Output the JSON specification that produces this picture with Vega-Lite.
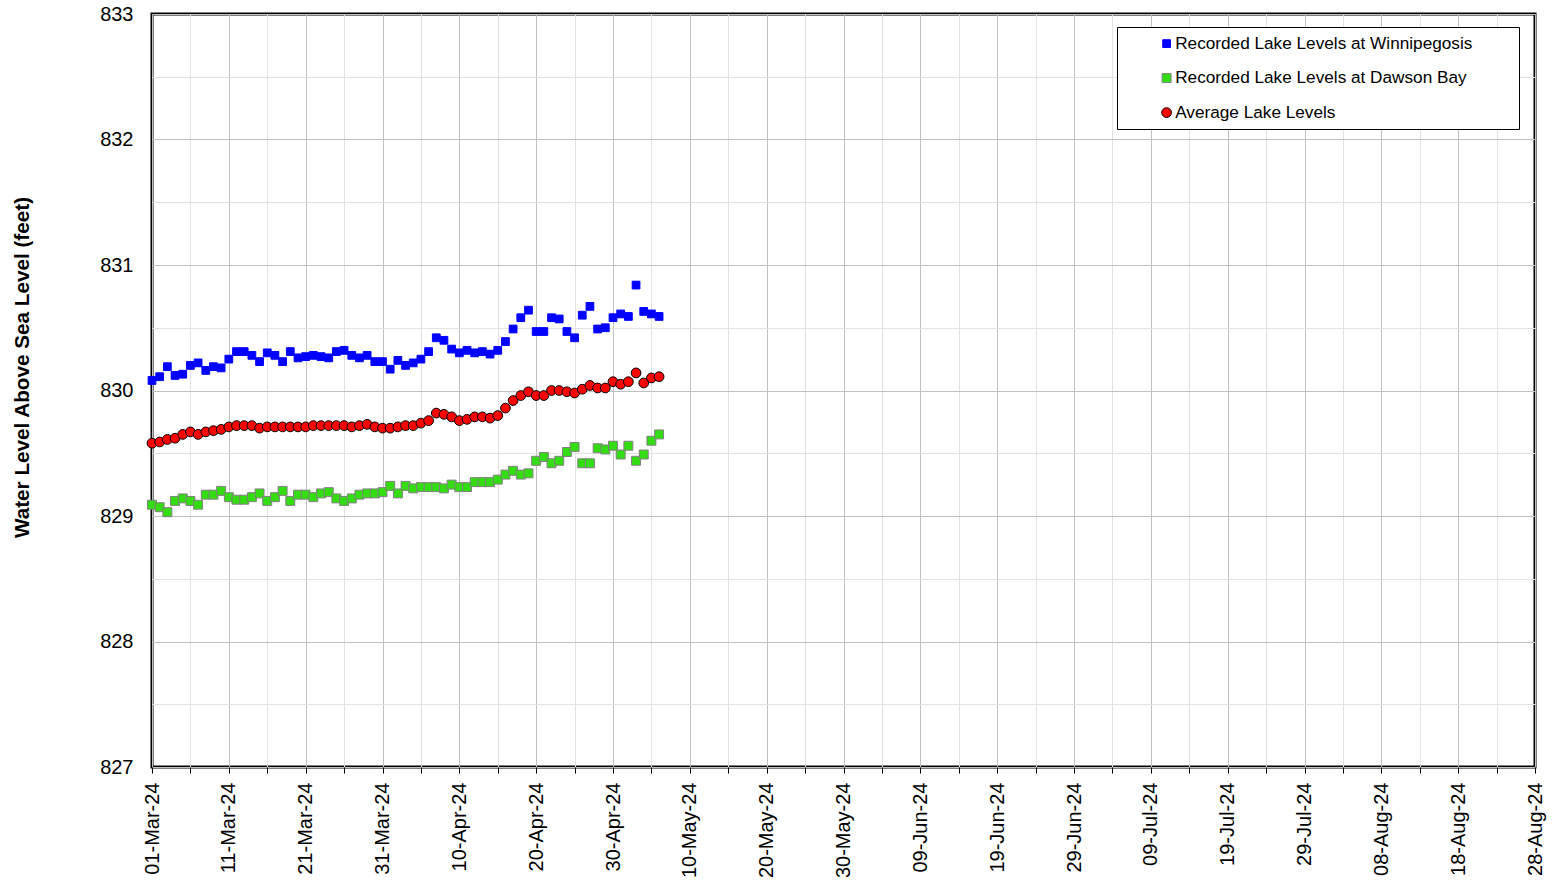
{
  "$schema": "https://vega.github.io/schema/vega-lite/v6.json",
  "width": 1383,
  "height": 753,
  "autosize": {"type": "none"},
  "padding": {"left": 152, "top": 14, "right": 18, "bottom": 117},
  "background": "white",
  "config": {"font": "Liberation Sans", "view": {"stroke": "black", "strokeWidth": 3}},
  "data": {"values": [
    {"date": "2024-03-01", "W": 830.08, "D": 829.09, "A": 829.58},
    {"date": "2024-03-02", "W": 830.11, "D": 829.07, "A": 829.59},
    {"date": "2024-03-03", "W": 830.19, "D": 829.03, "A": 829.61},
    {"date": "2024-03-04", "W": 830.12, "D": 829.12, "A": 829.62},
    {"date": "2024-03-05", "W": 830.13, "D": 829.14, "A": 829.65},
    {"date": "2024-03-06", "W": 830.20, "D": 829.12, "A": 829.67},
    {"date": "2024-03-07", "W": 830.22, "D": 829.09, "A": 829.65},
    {"date": "2024-03-08", "W": 830.16, "D": 829.17, "A": 829.67},
    {"date": "2024-03-09", "W": 830.19, "D": 829.17, "A": 829.68},
    {"date": "2024-03-10", "W": 830.18, "D": 829.20, "A": 829.69},
    {"date": "2024-03-11", "W": 830.25, "D": 829.15, "A": 829.71},
    {"date": "2024-03-12", "W": 830.31, "D": 829.13, "A": 829.72},
    {"date": "2024-03-13", "W": 830.31, "D": 829.13, "A": 829.72},
    {"date": "2024-03-14", "W": 830.28, "D": 829.15, "A": 829.72},
    {"date": "2024-03-15", "W": 830.23, "D": 829.18, "A": 829.70},
    {"date": "2024-03-16", "W": 830.30, "D": 829.12, "A": 829.71},
    {"date": "2024-03-17", "W": 830.28, "D": 829.15, "A": 829.71},
    {"date": "2024-03-18", "W": 830.23, "D": 829.20, "A": 829.71},
    {"date": "2024-03-19", "W": 830.31, "D": 829.12, "A": 829.71},
    {"date": "2024-03-20", "W": 830.26, "D": 829.17, "A": 829.71},
    {"date": "2024-03-21", "W": 830.27, "D": 829.17, "A": 829.71},
    {"date": "2024-03-22", "W": 830.28, "D": 829.15, "A": 829.72},
    {"date": "2024-03-23", "W": 830.27, "D": 829.18, "A": 829.72},
    {"date": "2024-03-24", "W": 830.26, "D": 829.19, "A": 829.72},
    {"date": "2024-03-25", "W": 830.31, "D": 829.14, "A": 829.72},
    {"date": "2024-03-26", "W": 830.32, "D": 829.12, "A": 829.72},
    {"date": "2024-03-27", "W": 830.28, "D": 829.14, "A": 829.71},
    {"date": "2024-03-28", "W": 830.26, "D": 829.17, "A": 829.72},
    {"date": "2024-03-29", "W": 830.28, "D": 829.18, "A": 829.73},
    {"date": "2024-03-30", "W": 830.23, "D": 829.18, "A": 829.71},
    {"date": "2024-03-31", "W": 830.23, "D": 829.19, "A": 829.70},
    {"date": "2024-04-01", "W": 830.17, "D": 829.24, "A": 829.70},
    {"date": "2024-04-02", "W": 830.24, "D": 829.18, "A": 829.71},
    {"date": "2024-04-03", "W": 830.20, "D": 829.24, "A": 829.72},
    {"date": "2024-04-04", "W": 830.22, "D": 829.22, "A": 829.72},
    {"date": "2024-04-05", "W": 830.25, "D": 829.23, "A": 829.74},
    {"date": "2024-04-06", "W": 830.31, "D": 829.23, "A": 829.76},
    {"date": "2024-04-07", "W": 830.42, "D": 829.23, "A": 829.82},
    {"date": "2024-04-08", "W": 830.40, "D": 829.22, "A": 829.81},
    {"date": "2024-04-09", "W": 830.33, "D": 829.25, "A": 829.79},
    {"date": "2024-04-10", "W": 830.30, "D": 829.23, "A": 829.76},
    {"date": "2024-04-11", "W": 830.32, "D": 829.23, "A": 829.77},
    {"date": "2024-04-12", "W": 830.30, "D": 829.27, "A": 829.79},
    {"date": "2024-04-13", "W": 830.31, "D": 829.27, "A": 829.79},
    {"date": "2024-04-14", "W": 830.29, "D": 829.27, "A": 829.78},
    {"date": "2024-04-15", "W": 830.32, "D": 829.29, "A": 829.80},
    {"date": "2024-04-16", "W": 830.39, "D": 829.33, "A": 829.86},
    {"date": "2024-04-17", "W": 830.49, "D": 829.36, "A": 829.92},
    {"date": "2024-04-18", "W": 830.58, "D": 829.33, "A": 829.96},
    {"date": "2024-04-19", "W": 830.64, "D": 829.34, "A": 829.99},
    {"date": "2024-04-20", "W": 830.47, "D": 829.44, "A": 829.96},
    {"date": "2024-04-21", "W": 830.47, "D": 829.47, "A": 829.96},
    {"date": "2024-04-22", "W": 830.58, "D": 829.42, "A": 830.00},
    {"date": "2024-04-23", "W": 830.57, "D": 829.44, "A": 830.00},
    {"date": "2024-04-24", "W": 830.47, "D": 829.51, "A": 829.99},
    {"date": "2024-04-25", "W": 830.42, "D": 829.55, "A": 829.98},
    {"date": "2024-04-26", "W": 830.60, "D": 829.42, "A": 830.01},
    {"date": "2024-04-27", "W": 830.67, "D": 829.42, "A": 830.04},
    {"date": "2024-04-28", "W": 830.49, "D": 829.54, "A": 830.02},
    {"date": "2024-04-29", "W": 830.50, "D": 829.53, "A": 830.02},
    {"date": "2024-04-30", "W": 830.58, "D": 829.56, "A": 830.07},
    {"date": "2024-05-01", "W": 830.61, "D": 829.49, "A": 830.05},
    {"date": "2024-05-02", "W": 830.59, "D": 829.56, "A": 830.07},
    {"date": "2024-05-03", "W": 830.84, "D": 829.44, "A": 830.14},
    {"date": "2024-05-04", "W": 830.63, "D": 829.49, "A": 830.06},
    {"date": "2024-05-05", "W": 830.61, "D": 829.60, "A": 830.10},
    {"date": "2024-05-06", "W": 830.59, "D": 829.65, "A": 830.11}
  ]},
  "transform": [{"fold": ["W", "D", "A"], "as": ["series", "level"]}],
  "mark": {"type": "point", "filled": true, "strokeWidth": 1, "opacity": 1},
  "encoding": {
    "x": {
      "field": "date", "type": "temporal",
      "scale": {"type": "utc", "domain": [1709251200000, 1724803200000]},
      "axis": {
        "values": [1709251200000, 1709683200000, 1710115200000, 1710547200000, 1710979200000, 1711411200000, 1711843200000, 1712275200000, 1712707200000, 1713139200000, 1713571200000, 1714003200000, 1714435200000, 1714867200000, 1715299200000, 1715731200000, 1716163200000, 1716595200000, 1717027200000, 1717459200000, 1717891200000, 1718323200000, 1718755200000, 1719187200000, 1719619200000, 1720051200000, 1720483200000, 1720915200000, 1721347200000, 1721779200000, 1722211200000, 1722643200000, 1723075200000, 1723507200000, 1723939200000, 1724371200000, 1724803200000],
        "labelExpr": "round((datum.value-1709251200000)/432000000)%2==0 ? utcFormat(datum.value,'%d-%b-%y') : ''",
        "labelAngle": 270,
        "labelAlign": "right",
        "labelBaseline": "middle",
        "labelFontSize": 20,
        "labelColor": "black",
        "labelPadding": 9,
        "labelOverlap": false,
        "labelFlush": false,
        "labelBound": false,
        "tickSize": 6,
        "tickColor": "black",
        "tickWidth": 1,
        "domain": false,
        "grid": true,
        "gridWidth": 1,
        "gridColor": {"condition": {"test": "round((datum.value-1709251200000)/432000000)%2==0", "value": "#c0c0c0"}, "value": "#e2e2e2"},
        "title": null
      }
    },
    "y": {
      "field": "level", "type": "quantitative",
      "scale": {"domain": [827, 833], "zero": false, "nice": false},
      "axis": {
        "values": [827, 827.5, 828, 828.5, 829, 829.5, 830, 830.5, 831, 831.5, 832, 832.5, 833],
        "labelExpr": "datum.value%1==0 ? format(datum.value,'d') : ''",
        "labelFontSize": 20,
        "labelColor": "black",
        "labelPadding": 19,
        "labelOverlap": false,
        "labelFlush": false,
        "ticks": false,
        "domain": false,
        "grid": true,
        "gridWidth": 1,
        "gridColor": {"condition": {"test": "datum.value%1==0", "value": "#c0c0c0"}, "value": "#e2e2e2"},
        "title": "Water Level Above Sea Level (feet)",
        "titleFontSize": 20.7,
        "titleFontWeight": "bold",
        "titleColor": "black",
        "titleAngle": 270,
        "titleAlign": "center",
        "titleBaseline": "alphabetic",
        "titleX": -124,
        "titleY": 353
      }
    },
    "fill": {
      "field": "series", "type": "nominal",
      "scale": {"domain": ["W", "D", "A"], "range": ["#0000ff", "#33dd11", "#ff0000"]},
      "legend": {
        "orient": "none",
        "legendX": 965,
        "legendY": 13,
        "title": "M",
        "titleOrient": "right",
        "titleAngle": 0,
        "titleFontSize": 10,
        "titlePadding": 30,
        "titleOpacity": 0,
        "padding": 8,
        "symbolOffset": 33,
        "rowPadding": 16.5,
        "labelFontSize": 17.2,
        "labelColor": "black",
        "labelOffset": 0,
        "labelLimit": 0,
        "symbolStrokeWidth": 1,
        "strokeColor": "black",
        "fillColor": "white",
        "labelExpr": "datum.value=='W' ? 'Recorded Lake Levels at Winnipegosis' : datum.value=='D' ? 'Recorded Lake Levels at Dawson Bay' : 'Average Lake Levels'"
      }
    },
    "stroke": {
      "field": "series", "type": "nominal",
      "scale": {"domain": ["W", "D", "A"], "range": ["#0000ff", "#808080", "#000000"]}
    },
    "shape": {
      "field": "series", "type": "nominal",
      "scale": {"domain": ["W", "D", "A"], "range": ["square", "square", "circle"]}
    },
    "size": {
      "field": "series", "type": "nominal",
      "scale": {"type": "ordinal", "domain": ["W", "D", "A"], "range": [60, 80, 95]}
    }
  }
}
